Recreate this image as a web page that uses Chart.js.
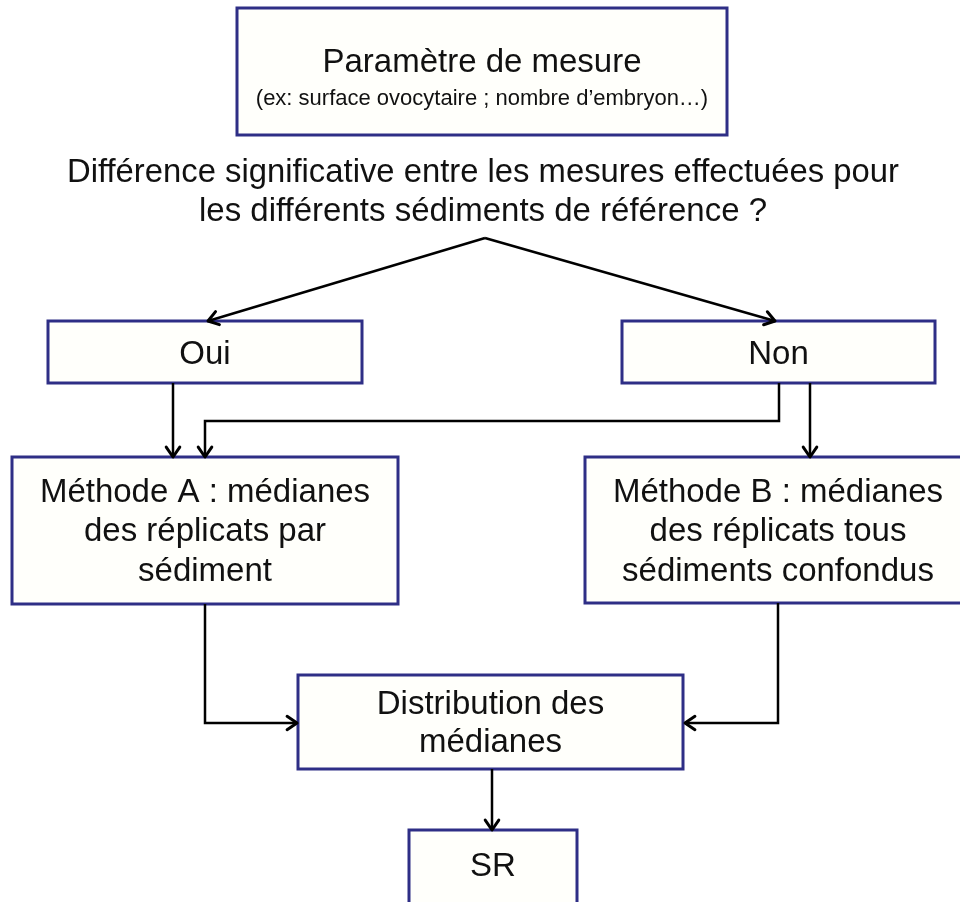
<!DOCTYPE html>
<html>
<head>
<meta charset="utf-8">
<script src="https://cdn.jsdelivr.net/npm/chart.js@4.4.1/dist/chart.umd.min.js"></script>
<style>
  html, body { margin: 0; padding: 0; background: #fff; }
  #wrap { width: 960px; height: 902px; }
</style>
</head>
<body>
<div id="wrap"><canvas id="chart" width="960" height="902"></canvas></div>
<script>
const ctx = document.getElementById("chart").getContext("2d");

/*
Flowchart data (page units, y downwards)
*/
const boxNames = ["param", "oui", "non", "methA", "methB", "distrib", "sr"];
const boxLeft   = [237, 48, 622, 12, 585, 298, 409];
const boxTop    = [8, 321, 321, 457, 457, 675, 830];
const boxRight  = [727, 362, 935, 398, 971, 683, 577];
const boxBottom = [135, 383, 383, 604, 603, 769, 915];

const boxLines = [
  ["Paramètre de mesure", "(ex: surface ovocytaire ; nombre d’embryon…)"],
  ["Oui"],
  ["Non"],
  ["Méthode A : médianes", "des réplicats par", "sédiment"],
  ["Méthode B : médianes", "des réplicats tous", "sédiments confondus"],
  ["Distribution des", "médianes"],
  ["SR"]
];
const lineY = [
  [63, 99],
  [355],
  [355],
  [493, 532, 572],
  [493, 532, 572],
  [705, 743],
  [867]
];

const questionLines = [
  "Différence significative entre les mesures effectuées pour",
  "les différents sédiments de référence ?"
];
const questionY = [173, 212];
const questionX = 483;

/* connectors: each one ends with an arrow head */
const connectors = [
  [[485, 238], [208, 321]],
  [[485, 238], [775, 321]],
  [[173, 383], [173, 457]],
  [[779, 383], [779, 421], [205, 421], [205, 457]],
  [[810, 383], [810, 457]],
  [[205, 604], [205, 723], [297, 723]],
  [[778, 603], [778, 723], [685, 723]],
  [[492, 769], [492, 830]]
];

const BOX_COLOR = "#2e2e86";
const FONT = '"Liberation Sans", Arial, sans-serif';

/*
Boxes, arrow heads and texts
*/
const flowPlugin = {
  id: "flow",
  beforeDatasetsDraw(chart) {
    const c = chart.ctx;
    const sx = chart.scales.x, sy = chart.scales.y;
    c.save();
    for (let i = 0; i < boxNames.length; i++) {
      const x0 = sx.getPixelForValue(boxLeft[i]);
      const x1 = sx.getPixelForValue(boxRight[i]);
      const y0 = sy.getPixelForValue(boxTop[i]);
      const y1 = sy.getPixelForValue(boxBottom[i]);
      c.fillStyle = "#fffffb";
      c.fillRect(x0, y0, x1 - x0, y1 - y0);
      c.lineWidth = 3;
      c.strokeStyle = BOX_COLOR;
      c.strokeRect(x0, y0, x1 - x0, y1 - y0);
    }
    c.restore();
  },
  afterDatasetsDraw(chart) {
    const c = chart.ctx;
    const sx = chart.scales.x, sy = chart.scales.y;
    c.save();

    // arrow heads
    c.strokeStyle = "#000";
    c.lineWidth = 3;
    c.lineCap = "round";
    c.lineJoin = "round";
    connectors.forEach(pts => {
      const a = pts[pts.length - 2], b = pts[pts.length - 1];
      const ax = sx.getPixelForValue(a[0]), ay = sy.getPixelForValue(a[1]);
      const bx = sx.getPixelForValue(b[0]), by = sy.getPixelForValue(b[1]);
      const ang = Math.atan2(by - ay, bx - ax);
      const len = 12, spread = 0.6;
      c.beginPath();
      c.moveTo(bx - len * Math.cos(ang - spread), by - len * Math.sin(ang - spread));
      c.lineTo(bx, by);
      c.lineTo(bx - len * Math.cos(ang + spread), by - len * Math.sin(ang + spread));
      c.stroke();
    });

    // texts
    c.fillStyle = "#111";
    c.textAlign = "center";
    c.textBaseline = "middle";
    for (let i = 0; i < boxNames.length; i++) {
      const cx = sx.getPixelForValue((boxLeft[i] + boxRight[i]) / 2);
      boxLines[i].forEach((t, j) => {
        const small = boxNames[i] === "param" && j === 1;
        c.font = (small ? "22px " : "33px ") + FONT;
        c.fillText(t, cx, sy.getPixelForValue(lineY[i][j]));
      });
    }
    c.font = "33px " + FONT;
    questionLines.forEach((t, j) => {
      c.fillText(t, sx.getPixelForValue(questionX), sy.getPixelForValue(questionY[j]), 832);
    });
    c.restore();
  }
};

const chart = new Chart(ctx, {
  type: "scatter",
  data: {
    datasets: connectors.map((pts, i) => ({
      label: "link " + i,
      data: pts.map(p => ({ x: p[0], y: p[1] })),
      showLine: true,
      borderColor: "#000",
      borderWidth: 2.5,
      pointRadius: 0,
      tension: 0,
      fill: false
    }))
  },
  options: {
    responsive: false,
    animation: false,
    layout: { padding: 0 },
    plugins: { legend: { display: false }, tooltip: { enabled: false } },
    scales: {
      x: { type: "linear", min: 0, max: 960, display: false },
      y: { type: "linear", min: 0, max: 902, reverse: true, display: false }
    }
  },
  plugins: [flowPlugin]
});
</script>
</body>
</html>
